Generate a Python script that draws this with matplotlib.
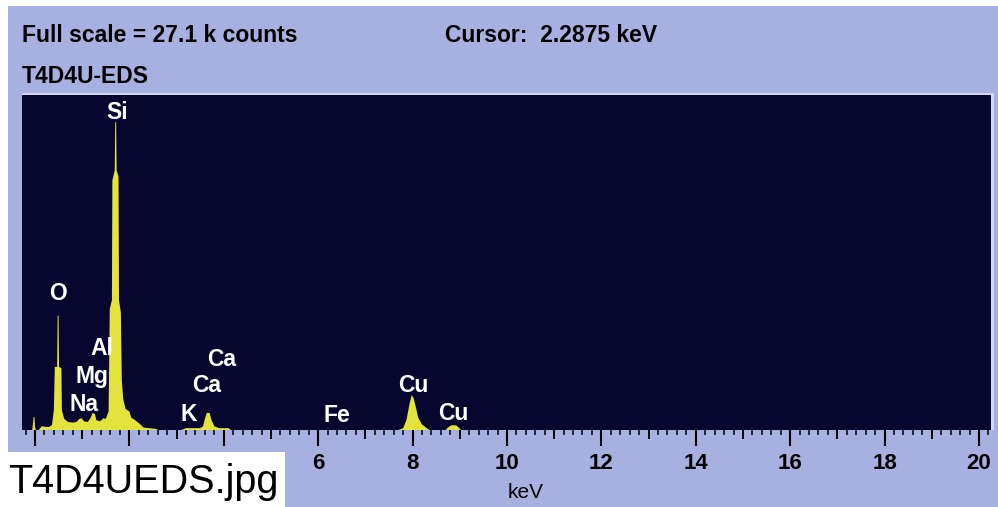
import matplotlib
matplotlib.use("Agg")
import matplotlib.pyplot as plt
from matplotlib.patches import Rectangle
from matplotlib.ticker import MultipleLocator

# EDS spectrum outline: energy (keV) and counts
energy_kev = [
    -0.275, -0.06, -0.05, -0.03, -0.01, 0.00, 0.02, 0.08, 0.14, 0.24, 0.30, 0.36,
    0.40, 0.42, 0.47, 0.48, 0.50, 0.51, 0.56, 0.57, 0.62, 0.70, 0.80, 0.88,
    0.94, 0.99, 1.04, 1.12, 1.18, 1.22, 1.27, 1.30, 1.38, 1.45, 1.50, 1.56,
    1.585, 1.63, 1.64, 1.69, 1.70, 1.72, 1.73, 1.77, 1.78, 1.82, 1.84, 1.87,
    1.92, 2.00, 2.04, 2.12, 2.22, 2.30, 2.40, 2.55, 2.62, 3.10, 3.20, 3.50,
    3.56, 3.60, 3.64, 3.70, 3.74, 3.80, 3.90, 4.10, 4.15, 7.70, 7.80, 7.87,
    7.93, 7.98, 8.02, 8.06, 8.12, 8.20, 8.30, 8.36, 8.70, 8.75, 8.82, 8.92,
    8.98, 9.02, 20.255,
]
counts = [
    0, 0, 250, 1050, 1050, 250, 0, 0, 300, 250, 250, 400,
    1600, 5100, 5100, 9250, 9250, 5100, 5000, 1600, 900, 650, 600, 650,
    900, 950, 700, 650, 1000, 1380, 1300, 800, 700, 950, 900, 1500,
    9800, 10500, 20200, 21000, 24900, 24900, 21000, 20500, 10500, 9500, 4000, 2500,
    1700, 1500, 1000, 800, 500, 200, 150, 100, 0, 0, 150, 150,
    300, 900, 1380, 1380, 800, 300, 150, 150, 0, 0, 150, 800,
    2000, 2830, 2600, 2000, 1000, 450, 150, 0, 0, 200, 380, 380,
    200, 0, 0,
]
full_scale_counts = 27100

# Element markers
peak_labels = ["Si", "O", "Al", "Mg", "Na", "K", "Ca", "Ca", "Fe", "Cu", "Cu"]
label_kev = [1.74, 0.49, 1.42, 1.21, 1.04, 3.26, 3.64, 3.96, 6.40, 8.01, 8.86]
label_counts = [25700, 11080, 6630, 4290, 2100, 1290, 3560, 5740, 1210, 3640, 1375]

# axis ticks; the first three labels sit under the caption box and are left blank
tick_values = list(range(0, 21, 2))
tick_labels = ["", "", "", "6", "8", "10", "12", "14", "16", "18", "20"]

header_left = "Full scale = 27.1 k counts"
header_cursor = "Cursor:  2.2875 keV"
spectrum_name = "T4D4U-EDS"
file_caption = "T4D4UEDS.jpg"

panel_color = "#a7b1e1"
plot_bg = "#06062e"
trace_color = "#e4e23c"
sans = ["Liberation Sans", "DejaVu Sans"]

W, H = 998, 507
fig = plt.figure(figsize=(W / 100, H / 100), dpi=100, facecolor="white")

# window panel behind everything
fig.patches.append(Rectangle((8 / W, 0), 1 - 8 / W, 1 - 6 / H, transform=fig.transFigure,
                             facecolor=panel_color, edgecolor="none", zorder=-2))
# light bevel above/right of the plot window
fig.patches.append(Rectangle((22 / W, 77 / H), 972 / W, 337 / H, transform=fig.transFigure,
                             facecolor="#d3d8f3", edgecolor="none", zorder=-1))

ax = fig.add_axes([22 / W, 77 / H, 969 / W, 335 / H])
ax.set_facecolor(plot_bg)
ax.fill_between(energy_kev, counts, 0, facecolor=trace_color, edgecolor="none",
                linewidth=0, zorder=2)
ax.set_xlim(-0.275, 20.255)
ax.set_ylim(0, full_scale_counts)

for name, x, y in zip(peak_labels, label_kev, label_counts):
    ax.text(x, y, name, color="white", ha="center", va="center",
            fontsize=16.5, family=sans, fontweight="bold", zorder=4)

for s in ax.spines.values():
    s.set_visible(False)
ax.set_yticks([])
ax.set_xticks(tick_values)
ax.set_xticklabels(tick_labels, family=sans, fontweight="bold", fontsize=16)
ax.xaxis.set_minor_locator(MultipleLocator(0.2))
ax.tick_params(axis="x", which="major", direction="out", length=11.5, width=1.5,
               color="black", pad=5)
ax.tick_params(axis="x", which="minor", direction="out", length=3.6, width=1.1,
               color="black")

# medium ticks at the odd keV values
sec = ax.secondary_xaxis("bottom")
sec.set_xticks(list(range(1, 21, 2)))
sec.tick_params(axis="x", direction="out", length=6.5, width=1.3, color="black",
                labelbottom=False)
sec.spines["bottom"].set_visible(False)

ax.set_xlabel("keV", family=sans, fontsize=15)
ax.xaxis.set_label_coords((526 - 22) / 969, (430 - 492) / 335)
ax.xaxis.label.set_verticalalignment("center")

fig.text(22 / W, 1 - 42 / H, header_left, family=sans, fontweight="bold",
         fontsize=16.5, va="baseline", ha="left")
fig.text(445 / W, 1 - 42 / H, header_cursor, family=sans, fontweight="bold",
         fontsize=16.5, va="baseline", ha="left")
fig.text(22 / W, 1 - 83 / H, spectrum_name, family=sans, fontweight="bold",
         fontsize=16.5, va="baseline", ha="left")

# caption box over the lower-left corner
fig.patches.append(Rectangle((0, 0), 285 / W, 55 / H, transform=fig.transFigure,
                             facecolor="white", edgecolor="none", zorder=5))
fig.text(8 / W, 1 - 493 / H, file_caption, family=sans,
         fontsize=28.5, va="baseline", ha="left", zorder=6)

fig.savefig("out.png", dpi=100, facecolor="white")
